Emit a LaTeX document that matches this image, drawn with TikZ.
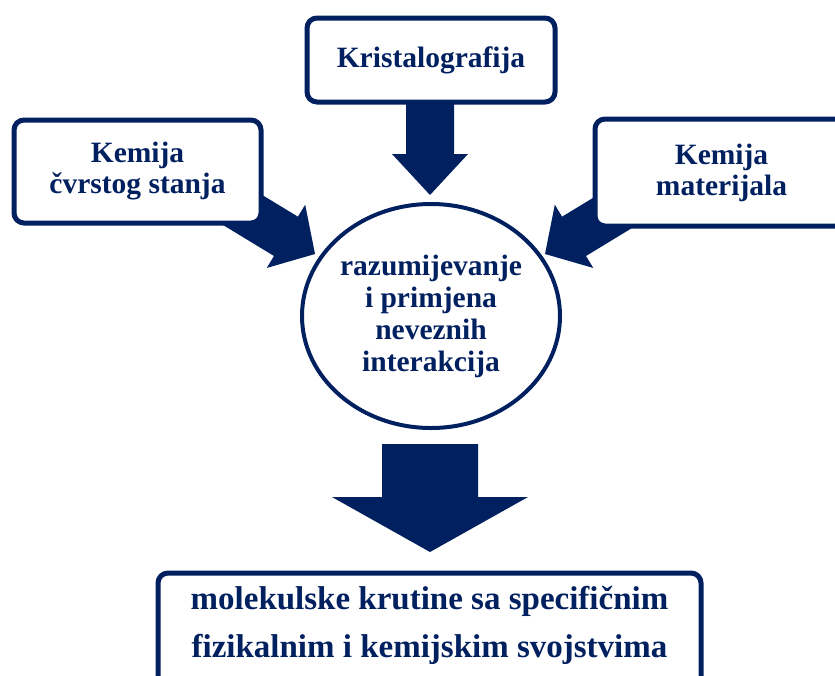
\documentclass[tikz,border=0pt]{standalone}
\usepackage{fontspec}
\setmainfont{Liberation Serif}
\usetikzlibrary{shapes.geometric}
\definecolor{navy}{HTML}{002060}
\newcommand\blockarrow[6]{%
  \begin{scope}[shift={(#1)}, rotate=#2]
    \fill[navy] (0,0) -- (-#3,#4) -- (-#3,#5) -- (-#6,#5) -- (-#6,-#5) -- (-#3,-#5) -- (-#3,-#4) -- cycle;
  \end{scope}}
\begin{document}
\begin{tikzpicture}[x=1pt,y=1pt,
  boxst/.style={draw=navy, line width=5pt, fill=white, rounded corners=10pt,
    inner sep=0pt, align=center, text=navy,
    font=\fontsize{29.5}{31}\selectfont\bfseries},
  circst/.style={ellipse, draw=navy, line width=4pt, fill=white, inner sep=0pt,
    align=center, text=navy, font=\fontsize{29.5}{32}\selectfont\bfseries},
  outtxt/.style={align=center, text=navy, inner sep=0pt,
    font=\fontsize{33}{48}\selectfont\bfseries}]
\useasboundingbox (0,-675) rectangle (835,0);
\clip (0,-675) rectangle (835,0);
\fill[white] (0,-675) rectangle (835,0);

% tips of the block arrows
\coordinate (tipT) at (430,-195);
\coordinate (tipL) at (315,-254);
\coordinate (tipR) at (545,-254);
\coordinate (tipB) at (430,-552);

\blockarrow{tipT}{-90}{41}{38}{24}{100}
\blockarrow{tipL}{-31.3}{34}{37}{23}{110}
\blockarrow{tipR}{211.3}{34}{37}{23}{110}
\blockarrow{tipB}{-90}{55}{98}{48}{108}

\node[boxst, minimum width=248, minimum height=84] (kris) at (431,-60) {Kristalografija};
\node[boxst, minimum width=247, minimum height=103] (kcs) at (137.5,-171.5) {Kemija\\čvrstog stanja};
\node[boxst, minimum width=253, minimum height=107] (km) at (721.5,-172.5) {Kemija\\materijala};

\node[circst, minimum width=258, minimum height=224] (circ) at (431,-316)
  {razumijevanje\\i primjena\\neveznih\\interakcija};

\node[boxst, minimum width=543, minimum height=140] (out) at (429.5,-643) {};
\node[outtxt] (outtext) at (429.5,-625) {molekulske krutine sa specifičnim\\fizikalnim i kemijskim svojstvima};
\end{tikzpicture}
\end{document}
